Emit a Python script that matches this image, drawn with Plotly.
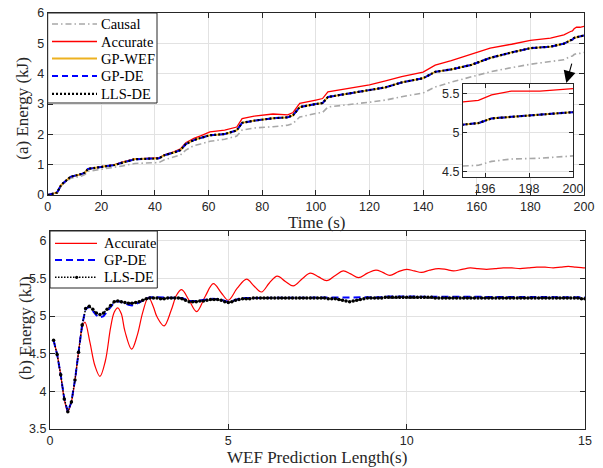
import plotly.graph_objects as go

# ---------------- (a) energy vs time ----------------
time_s = [0, 2.5, 3.5, 5, 7, 8.5, 12.5, 14, 15, 20, 25, 28, 32.5, 41.5, 43.5, 47, 49.5,
          51.5, 54.5, 57, 60.5, 66, 70.5, 72.5, 77, 84, 89.5, 91.5, 94, 100, 102.5, 104.5,
          112, 120, 126, 132, 140, 144.5, 150.5, 158, 165, 173, 180, 187.5, 192.5, 195,
          195.7, 196.3, 197.2, 198.5, 200]
causal = [0.00, 0.03, 0.06, 0.30, 0.45, 0.55, 0.62, 0.68, 0.78, 0.84, 0.90, 0.96, 1.04,
          1.07, 1.16, 1.26, 1.32, 1.48, 1.63, 1.68, 1.77, 1.84, 1.94, 2.14, 2.21, 2.25,
          2.30, 2.36, 2.57, 2.69, 2.72, 2.90, 2.97, 3.06, 3.13, 3.24, 3.36, 3.56, 3.72,
          3.90, 4.06, 4.20, 4.31, 4.40, 4.46, 4.57, 4.58, 4.63, 4.66, 4.67, 4.70]
accurate = [0.00, 0.05, 0.08, 0.33, 0.48, 0.60, 0.69, 0.75, 0.86, 0.94, 1.00, 1.09, 1.19,
            1.22, 1.32, 1.42, 1.52, 1.72, 1.87, 1.95, 2.08, 2.14, 2.24, 2.52, 2.60, 2.67,
            2.64, 2.72, 3.02, 3.13, 3.18, 3.40, 3.52, 3.63, 3.76, 3.90, 4.05, 4.28, 4.43,
            4.64, 4.84, 4.97, 5.10, 5.17, 5.28, 5.39, 5.41, 5.48, 5.53, 5.53, 5.56]
gp_wef = [0.00, 0.04, 0.08, 0.33, 0.48, 0.60, 0.69, 0.74, 0.86, 0.93, 0.99, 1.07, 1.18,
          1.21, 1.31, 1.40, 1.48, 1.68, 1.81, 1.88, 1.97, 2.01, 2.13, 2.38, 2.45, 2.53,
          2.56, 2.63, 2.90, 3.00, 3.03, 3.23, 3.35, 3.46, 3.55, 3.71, 3.85, 4.06, 4.14,
          4.29, 4.52, 4.70, 4.84, 4.89, 4.99, 5.10, 5.12, 5.18, 5.20, 5.22, 5.26]
gp_de = [0.00, 0.04, 0.08, 0.33, 0.48, 0.60, 0.69, 0.74, 0.86, 0.93, 0.99, 1.07, 1.18,
         1.21, 1.31, 1.40, 1.48, 1.68, 1.81, 1.88, 1.97, 2.01, 2.13, 2.38, 2.45, 2.53,
         2.56, 2.63, 2.90, 3.00, 3.03, 3.23, 3.35, 3.46, 3.55, 3.71, 3.85, 4.06, 4.14,
         4.29, 4.52, 4.70, 4.84, 4.89, 4.99, 5.10, 5.12, 5.18, 5.20, 5.22, 5.26]
lls_de = [0.00, 0.04, 0.08, 0.33, 0.48, 0.60, 0.69, 0.74, 0.86, 0.93, 0.99, 1.07, 1.18,
          1.21, 1.31, 1.40, 1.48, 1.68, 1.81, 1.88, 1.97, 2.01, 2.13, 2.38, 2.45, 2.53,
          2.56, 2.63, 2.90, 3.00, 3.03, 3.23, 3.35, 3.46, 3.55, 3.71, 3.85, 4.06, 4.14,
          4.29, 4.52, 4.70, 4.84, 4.89, 4.99, 5.10, 5.12, 5.18, 5.20, 5.22, 5.26]

# ---------------- (b) energy vs WEF prediction length ----------------
pred_len = [round(0.1 * k, 1) for k in range(1, 151)]
lls_b = [4.68, 4.49, 4.22, 3.90, 3.73, 3.86, 4.15, 4.52, 4.88, 5.10,
         5.13, 5.09, 5.04, 5.02, 5.04, 5.09, 5.14, 5.19, 5.20, 5.19,
         5.18, 5.17, 5.17, 5.18, 5.19, 5.21, 5.23, 5.24, 5.24, 5.24,
         5.23, 5.23, 5.24, 5.24, 5.24, 5.24, 5.23, 5.21, 5.19, 5.19,
         5.19, 5.20, 5.20, 5.21, 5.22, 5.22, 5.22, 5.21, 5.19, 5.18,
         5.19, 5.21, 5.22, 5.23, 5.23, 5.23, 5.24, 5.24, 5.24, 5.24,
         5.24, 5.24, 5.24, 5.24, 5.24, 5.24, 5.24, 5.24, 5.24, 5.24,
         5.24, 5.24, 5.24, 5.24, 5.24, 5.24, 5.24, 5.23, 5.23, 5.23,
         5.22, 5.21, 5.20, 5.19, 5.20, 5.21, 5.22, 5.23, 5.24, 5.24,
         5.24, 5.24, 5.24, 5.25, 5.25, 5.25, 5.25, 5.25, 5.25, 5.25,
         5.25, 5.25, 5.25, 5.25, 5.25, 5.25, 5.25, 5.24, 5.24, 5.24,
         5.24, 5.24, 5.24, 5.24, 5.24, 5.24, 5.24, 5.24, 5.24, 5.24,
         5.24, 5.24, 5.24, 5.24, 5.24, 5.24, 5.24, 5.24, 5.24, 5.24,
         5.24, 5.24, 5.24, 5.24, 5.24, 5.24, 5.24, 5.24, 5.24, 5.24,
         5.24, 5.24, 5.24, 5.24, 5.24, 5.24, 5.24, 5.24, 5.23, 5.23]
gp_b = [4.68, 4.49, 4.22, 3.90, 3.73, 3.86, 4.15, 4.52, 4.88, 5.10,
        5.12, 5.07, 5.01, 4.98, 5.00, 5.06, 5.12, 5.18, 5.20, 5.19,
        5.17, 5.15, 5.14, 5.16, 5.18, 5.21, 5.23, 5.25, 5.25, 5.25,
        5.24, 5.24, 5.25, 5.25, 5.25, 5.25, 5.24, 5.22, 5.20, 5.20,
        5.20, 5.21, 5.21, 5.22, 5.23, 5.23, 5.23, 5.22, 5.20, 5.19,
        5.20, 5.22, 5.23, 5.24, 5.24, 5.24, 5.25, 5.25, 5.25, 5.25,
        5.25, 5.25, 5.25, 5.25, 5.25, 5.25, 5.25, 5.25, 5.25, 5.25,
        5.25, 5.25, 5.25, 5.25, 5.25, 5.25, 5.25, 5.25, 5.25, 5.25,
        5.25, 5.25, 5.25, 5.25, 5.25, 5.25, 5.25, 5.25, 5.25, 5.25,
        5.25, 5.25, 5.25, 5.26, 5.26, 5.26, 5.26, 5.26, 5.26, 5.26,
        5.26, 5.26, 5.26, 5.26, 5.26, 5.26, 5.26, 5.25, 5.25, 5.25,
        5.25, 5.25, 5.25, 5.25, 5.25, 5.25, 5.25, 5.25, 5.25, 5.25,
        5.25, 5.25, 5.25, 5.25, 5.25, 5.25, 5.25, 5.25, 5.25, 5.25,
        5.25, 5.25, 5.25, 5.25, 5.25, 5.25, 5.25, 5.25, 5.25, 5.25,
        5.25, 5.25, 5.25, 5.25, 5.25, 5.25, 5.25, 5.25, 5.25, 5.25]
acc_len = [0.1, 0.2, 0.3, 0.4, 0.5, 0.6, 0.7, 0.8, 0.9, 0.98, 1.12, 1.26, 1.4, 1.55, 1.7,
           1.8, 1.9, 2.0, 2.1, 2.29, 2.45, 2.6, 2.76, 2.9, 3.0, 3.2, 3.4, 3.55, 3.69, 3.9,
           4.11, 4.35, 4.58, 4.8, 5.0, 5.25, 5.51, 5.72, 5.93, 6.15, 6.37, 6.6, 6.82,
           7.08, 7.3, 7.53, 7.76, 8.0, 8.22, 8.43, 8.65, 8.9, 9.14, 9.33, 9.53, 9.77,
           10.0, 10.21, 10.42, 10.65, 10.89, 11.1, 11.31, 11.55, 11.78, 12.0, 12.24,
           12.48, 12.71, 12.95, 13.18, 13.41, 13.65, 13.88, 14.11, 14.32, 14.53, 14.74,
           14.95, 15.0]
acc_b = [4.68, 4.49, 4.22, 3.90, 3.73, 3.86, 4.15, 4.52, 4.84, 4.92, 4.65, 4.34, 4.20,
         4.40, 4.85, 5.05, 5.11, 5.03, 4.80, 4.56, 4.75, 5.05, 5.25, 5.12, 4.99, 4.87,
         5.08, 5.28, 5.35, 5.21, 5.06, 5.26, 5.43, 5.31, 5.21, 5.37, 5.49, 5.40, 5.32,
         5.44, 5.53, 5.46, 5.40, 5.50, 5.57, 5.52, 5.47, 5.54, 5.60, 5.56, 5.51, 5.57,
         5.61, 5.58, 5.54, 5.59, 5.62, 5.60, 5.58, 5.61, 5.63, 5.62, 5.60, 5.62, 5.64,
         5.63, 5.62, 5.63, 5.64, 5.64, 5.63, 5.64, 5.65, 5.65, 5.64, 5.65, 5.66, 5.65,
         5.64, 5.64]

SANS = "Liberation Sans, Arial, sans-serif"
SERIF = "Liberation Serif, Times New Roman, serif"
AX = "#262626"
GRID = "#e2e2e2"
W, H = 603, 468


def px(x):
    return x / W


def py(y):
    return 1 - y / H


fig = go.Figure()

top_series = [
    ("Causal", causal, dict(color="#a8a8a8", width=1.6, dash="6px,3px,1.5px,3px")),
    ("Accurate", accurate, dict(color="#ff0000", width=1.3)),
    ("GP-WEF", gp_wef, dict(color="#EDB120", width=1.8)),
    ("GP-DE", gp_de, dict(color="#0000ff", width=2, dash="6px,4px")),
    ("LLS-DE", lls_de, dict(color="#000000", width=2.2, dash="2px,2px")),
]
for xa, ya in (("x", "y"), ("x3", "y3")):
    for name, ys, ln in top_series:
        fig.add_trace(go.Scatter(x=time_s, y=ys, mode="lines", name=name, line=ln,
                                 xaxis=xa, yaxis=ya, showlegend=False, hoverinfo="skip"))

fig.add_trace(go.Scatter(x=acc_len, y=acc_b, mode="lines", name="Accurate",
                         line=dict(color="#ff0000", width=1.2, shape="spline"),
                         xaxis="x2", yaxis="y2", showlegend=False, hoverinfo="skip"))
fig.add_trace(go.Scatter(x=pred_len, y=gp_b, mode="lines", name="GP-DE",
                         line=dict(color="#0000ff", width=2, dash="7px,4px"),
                         xaxis="x2", yaxis="y2", showlegend=False, hoverinfo="skip"))
fig.add_trace(go.Scatter(x=pred_len, y=lls_b, mode="lines+markers", name="LLS-DE",
                         line=dict(color="#000000", width=1.5, dash="1.5px,1.5px"),
                         marker=dict(size=3.5, color="#000000"),
                         xaxis="x2", yaxis="y2", showlegend=False, hoverinfo="skip"))


def axis_style(**kw):
    d = dict(showline=True, linecolor=AX, linewidth=1, mirror="ticks", ticks="inside",
             ticklen=5, tickcolor=AX, tickwidth=1, showgrid=True, gridcolor=GRID,
             gridwidth=1, zeroline=False, automargin=False,
             tickfont=dict(family=SANS, size=12.5, color=AX))
    d.update(kw)
    return d


# ---- hand-built legends (box, samples, labels) ----
shapes = []
annotations = []


def legend_box(x0, x1, y0, y1):
    shapes.append(dict(type="rect", xref="paper", yref="paper", x0=px(x0), x1=px(x1),
                       y0=py(y1), y1=py(y0), fillcolor="white",
                       line=dict(color=AX, width=1), layer="above"))


def legend_entry(label, yrow, ln, xs=(52, 97), xt=99, marker_x=None):
    shapes.append(dict(type="line", xref="paper", yref="paper", x0=px(xs[0]), x1=px(xs[1]),
                       y0=py(yrow), y1=py(yrow), line=ln, layer="above"))
    if marker_x is not None:
        shapes.append(dict(type="circle", xref="paper", yref="paper",
                           x0=px(marker_x - 1.6), x1=px(marker_x + 1.6),
                           y0=py(yrow + 1.6), y1=py(yrow - 1.6), fillcolor="black",
                           line=dict(color="black", width=0), layer="above"))
    annotations.append(dict(text=label, xref="paper", yref="paper", x=px(xt), y=py(yrow),
                            xanchor="left", yanchor="middle", showarrow=False,
                            font=dict(family=SERIF, size=14.5, color="black")))


legend_box(47.7, 157, 13, 103)
for (name, ys, ln), yrow in zip(top_series, [24, 41.5, 58.5, 76, 93.8]):
    legend_entry(name, yrow, ln)

legend_box(50, 157.3, 231, 288)
legend_entry("Accurate", 243.3, dict(color="#ff0000", width=1.2), xs=(55, 97), xt=102)
legend_entry("GP-DE", 260, dict(color="#0000ff", width=2, dash="7px,4px"), xs=(55, 97), xt=102)
legend_entry("LLS-DE", 277.3, dict(color="#000000", width=1.5, dash="1.5px,1.5px"),
             xs=(55, 97), xt=102, marker_x=76.7)

# axis titles
title_font = dict(family=SERIF, size=17, color=AX)
annotations += [
    dict(text="Time (s)", xref="paper", yref="paper", x=px(316.5), y=py(222),
         xanchor="center", yanchor="middle", showarrow=False, font=title_font),
    dict(text="WEF Prediction Length(s)", xref="paper", yref="paper", x=px(317), y=py(457.5),
         xanchor="center", yanchor="middle", showarrow=False, font=title_font),
    dict(text="(a) Energy (kJ)", xref="paper", yref="paper", x=px(21.7), y=py(108),
         xanchor="center", yanchor="middle", showarrow=False, font=title_font, textangle=-90),
    dict(text="(b) Energy (kJ)", xref="paper", yref="paper", x=px(25), y=py(328),
         xanchor="center", yanchor="middle", showarrow=False, font=title_font, textangle=-90),
    dict(x=193.4, y=3.69, xref="x", yref="y", ax=195.6, ay=4.38, axref="x", ayref="y",
         text="", showarrow=True, arrowhead=2, arrowsize=2.2, arrowwidth=1.1,
         arrowcolor="black", standoff=0),
]

fig.update_layout(
    width=W, height=H, margin=dict(l=0, r=0, t=0, b=0, autoexpand=False),
    paper_bgcolor="white", plot_bgcolor="white", showlegend=False, hovermode=False,
    xaxis=axis_style(domain=[px(47.7), px(584)], range=[0, 200], dtick=20, anchor="y"),
    yaxis=axis_style(domain=[py(195), py(13)], range=[0, 6], dtick=1, anchor="x"),
    xaxis2=axis_style(domain=[px(50), px(585)], range=[0, 15], tickvals=[0, 5, 10, 15],
                      anchor="y2"),
    yaxis2=axis_style(domain=[py(429), py(231)], range=[3.5, 6.13],
                      tickvals=[3.5, 4, 4.5, 5, 5.5, 6],
                      ticktext=["3.5", "4", "4.5", "5", "5.5", "6"], anchor="x2"),
    xaxis3=axis_style(domain=[px(463), px(573)], range=[195, 200], tickvals=[196, 198, 200],
                      anchor="y3", ticklen=4),
    yaxis3=axis_style(domain=[py(177), py(84)], range=[4.43, 5.62], tickvals=[4.5, 5, 5.5],
                      anchor="x3", ticklen=4),
    shapes=shapes,
    annotations=annotations,
)

fig.write_html("out.html", config={"displayModeBar": False},
               post_script="document.body.style.margin='0px';")
